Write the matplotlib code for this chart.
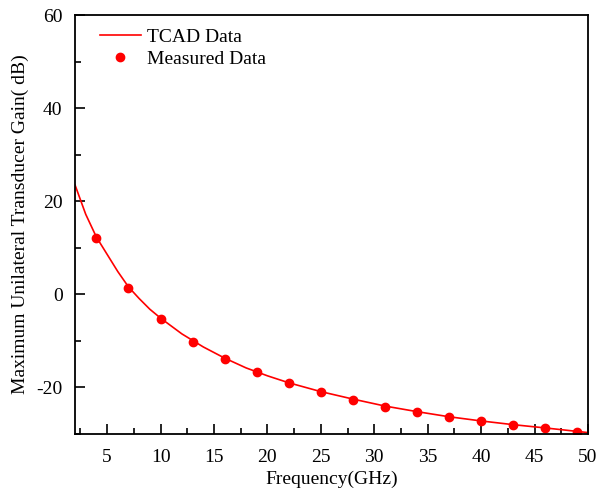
import numpy as np
import matplotlib
matplotlib.use("Agg")
import matplotlib.pyplot as plt
from matplotlib.ticker import MultipleLocator

plt.rcParams['font.family'] = ['Liberation Serif', 'DejaVu Serif']
plt.rcParams['axes.unicode_minus'] = False

# TCAD simulated curve
tcad_freq = [2, 3, 4, 5, 6, 7, 8, 9, 10, 11, 12, 13, 14, 16, 18, 20, 22, 25,
             28, 31, 34, 37, 40, 43, 46, 50]
tcad_gain = [23.5, 17.2, 12.3, 8.6, 4.9, 1.6, -0.9, -3.2, -5.1, -6.8, -8.5,
             -9.9, -11.3, -13.7, -15.8, -17.5, -19.0, -20.9, -22.5, -24.0,
             -25.2, -26.3, -27.2, -28.0, -28.7, -29.7]

# measured points
meas_freq = [4, 7, 10, 13, 16, 19, 22, 25, 28, 31, 34, 37, 40, 43, 46, 49]
meas_gain = [12.2, 1.4, -5.3, -10.2, -13.8, -16.7, -19.0, -20.9, -22.6,
             -24.1, -25.2, -26.3, -27.2, -28.0, -28.7, -29.5]

fig = plt.figure(figsize=(6.1, 4.94), dpi=100)
ax = fig.add_axes([0.123, 0.1215, 0.841, 0.848])

ax.plot(tcad_freq, tcad_gain, color='red', lw=1.2, label='TCAD Data')
ax.plot(meas_freq, meas_gain, 'o', color='red', ms=6, label='Measured Data')

ax.set_xlim(2, 50)
ax.set_ylim(-30, 60)
ax.xaxis.set_major_locator(MultipleLocator(5))
ax.xaxis.set_minor_locator(MultipleLocator(2.5))
ax.yaxis.set_major_locator(MultipleLocator(20))
ax.yaxis.set_minor_locator(MultipleLocator(10))
ax.tick_params(which='both', direction='in', top=False, right=False,
               labelsize=14, width=1.2, pad=9)
ax.tick_params(axis='x', which='both', pad=11)
ax.tick_params(which='major', length=7)
ax.tick_params(which='minor', length=4)
for s in ax.spines.values():
    s.set_linewidth(1.3)

ax.set_xlabel('Frequency(GHz)', fontsize=14, labelpad=3)
ax.set_ylabel('Maximum Unilateral Transducer Gain( dB)', fontsize=14, labelpad=5)

ax.legend(loc='upper left', frameon=False, fontsize=14, handlelength=2.1,
          handletextpad=0.3, labelspacing=0.2, borderaxespad=0.3,
          bbox_to_anchor=(0.022, 1.0))

fig.savefig('out.png', dpi=100)
